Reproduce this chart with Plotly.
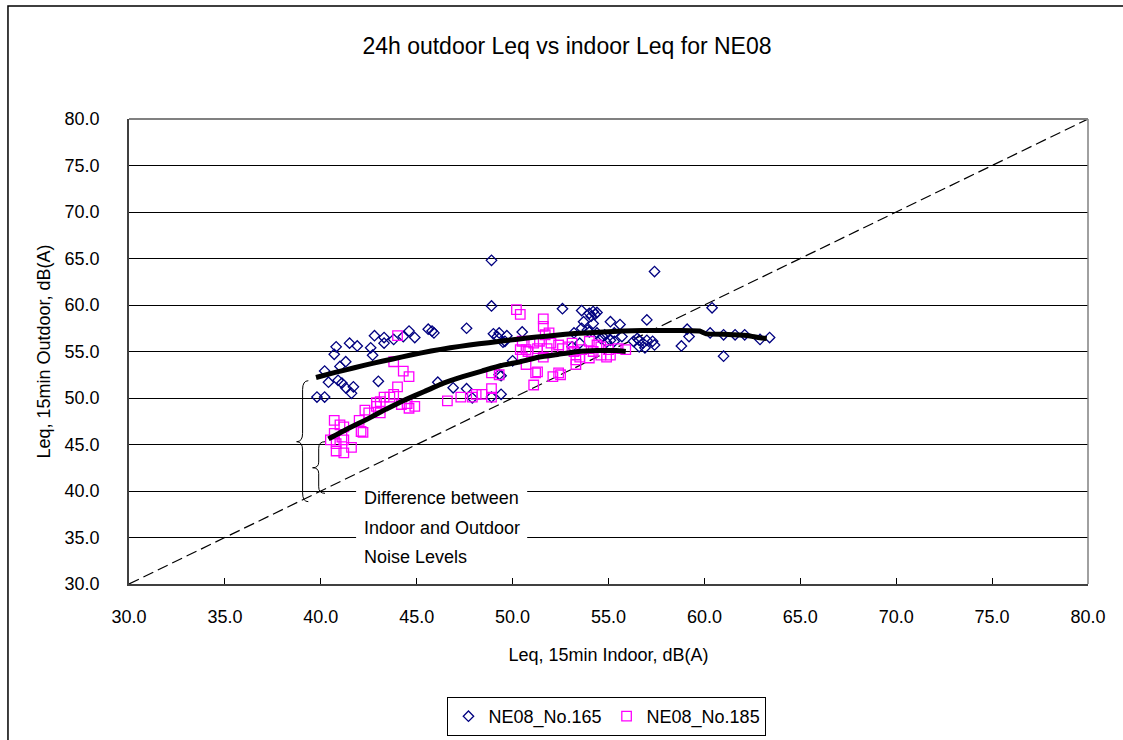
import plotly.graph_objects as go

# ---------------- data ----------------
ne165_x = [48.9, 48.9, 47.6, 45.6, 45.8, 45.9, 44.6, 44.9, 44.3, 43.8, 43.3, 43.3, 42.8, 42.6, 42.7,
           41.9, 41.5, 40.8, 40.7, 41.3, 41.0, 40.2, 40.4, 40.9, 41.1, 41.3, 41.7, 41.6, 43.0, 39.8,
           40.2, 46.1, 46.9, 47.6, 47.9, 48.9, 49.4, 49.3, 49.4, 49.0, 49.3, 49.2, 49.7, 49.6, 50.5,
           50.0, 52.6, 53.6, 54.0, 54.2, 54.3, 54.1, 54.4, 53.7, 54.2, 55.1, 55.6, 49.5, 53.2, 53.9,
           54.4, 54.7, 55.1, 55.3, 54.9, 55.7, 53.1, 53.5, 56.3, 57.4, 60.4, 57.0, 56.5, 56.6, 56.8,
           57.0, 56.6, 56.9, 57.3, 57.4, 58.8, 59.1, 59.2, 60.3, 61.0, 61.0, 61.6, 62.1, 62.9, 63.4,
           54.6, 54.8, 55.3, 54.0, 53.6]
ne165_y = [64.8, 59.9, 57.5, 57.4, 57.2, 57.0, 57.2, 56.5, 56.6, 56.3, 56.5, 55.9, 56.7, 55.4, 54.6,
           55.6, 55.9, 55.5, 54.7, 53.9, 53.4, 52.9, 51.7, 51.9, 51.6, 51.1, 51.2, 50.5, 51.8, 50.1,
           50.1, 51.7, 51.1, 51.0, 50.0, 50.1, 50.4, 52.5, 52.4, 56.9, 57.0, 56.6, 56.7, 56.1, 57.1,
           54.0, 59.6, 59.4, 59.1, 59.3, 59.0, 58.8, 59.2, 58.2, 58.0, 58.2, 57.9, 56.0, 57.0, 57.3,
           57.0, 56.6, 56.2, 57.0, 56.0, 56.6, 55.5, 55.9, 56.1, 63.6, 59.7, 58.4, 56.4, 56.2, 55.9,
           56.2, 55.5, 55.4, 56.1, 55.7, 55.6, 57.4, 56.6, 57.0, 56.8, 54.5, 56.8, 56.8, 56.3, 56.5,
           56.4, 56.8, 56.1, 57.1, 57.5]

ne185_x = [50.2, 50.4, 44.0, 43.8, 44.3, 44.6, 44.0, 43.8, 43.6, 43.3, 43.1, 42.9, 42.9, 42.3, 42.5,
           43.1, 44.2, 44.5, 44.6, 44.9, 42.0, 42.1, 42.2, 40.7, 41.0, 41.2, 40.7, 41.1, 40.5, 40.8,
           41.2, 41.6, 40.8, 41.2, 46.6, 47.3, 47.9, 48.1, 48.4, 48.9, 48.9, 48.9, 49.3, 51.2, 51.1,
           51.6, 51.9, 51.6, 50.5, 50.7, 50.5, 50.8, 51.1, 51.3, 51.4, 51.6, 51.8, 52.0, 52.4, 52.6,
           53.1, 53.2, 53.3, 53.5, 54.0, 54.0, 54.4, 54.6, 54.9, 55.1, 55.9, 50.7, 51.3, 52.1, 52.4,
           52.5, 51.7, 53.3, 50.4, 54.6, 55.0, 53.6, 52.9, 54.2, 55.5]
ne185_y = [59.5, 59.0, 56.7, 53.9, 52.9, 52.3, 51.2, 50.4, 50.1, 50.1, 49.6, 49.5, 49.1, 48.7, 48.4,
           48.4, 49.3, 49.4, 48.9, 49.1, 47.6, 46.4, 46.3, 47.6, 47.1, 46.9, 46.2, 45.8, 45.5, 45.1,
           45.5, 44.7, 44.3, 44.1, 49.7, 50.1, 50.1, 50.4, 50.4, 51.0, 50.1, 52.7, 52.5, 52.7, 51.4,
           58.5, 57.0, 57.7, 56.1, 55.2, 54.4, 55.0, 55.9, 55.3, 56.1, 54.4, 55.3, 55.9, 55.7, 55.3,
           55.9, 55.0, 54.1, 54.4, 56.1, 54.3, 55.7, 54.6, 54.4, 54.6, 55.2, 53.6, 52.8, 52.3, 52.7,
           52.5, 56.8, 53.6, 55.2, 55.5, 55.2, 55.2, 55.5, 55.0, 55.3]

trend165_x = [39.75, 40.75, 41.75, 42.75, 43.75, 44.75, 45.75, 46.75, 47.75, 48.75, 49.75, 50.75,
              51.75, 52.75, 53.75, 54.75, 55.75, 56.75, 57.75, 58.75, 59.75, 60.1, 61.0, 61.5,
              62.3, 62.8, 63.25]
trend165_y = [52.2, 52.75, 53.25, 53.75, 54.2, 54.65, 55.05, 55.4, 55.7, 55.95, 56.2, 56.45,
              56.65, 56.85, 57.0, 57.1, 57.2, 57.25, 57.25, 57.25, 57.2, 56.9, 56.85, 56.8,
              56.7, 56.5, 56.4]

trend185_x = [40.4, 41.4, 42.4, 43.4, 44.4, 45.4, 46.4, 47.4, 48.4, 49.4, 50.4, 51.4, 52.4,
              53.4, 54.4, 55.4, 55.9]
trend185_y = [45.6, 46.7, 47.7, 48.8, 49.8, 50.7, 51.6, 52.3, 52.9, 53.5, 53.9, 54.4, 54.7,
              55.0, 55.1, 55.1, 55.0]

equal_x = [30.0, 80.0]
equal_y = [30.0, 80.0]

title_text = "24h outdoor Leq vs indoor Leq for NE08"
x_title = "Leq, 15min Indoor, dB(A)"
y_title = "Leq, 15min Outdoor, dB(A)"
note_lines = ["Difference between", "Indoor and Outdoor", "Noise Levels"]

# ---------------- style ----------------
FONT = "Liberation Sans, Arial, sans-serif"
NAVY = "#000080"
MAGENTA = "#FF00FF"

fig = go.Figure()

fig.add_trace(go.Scatter(x=equal_x, y=equal_y, mode="lines",
                         line=dict(color="black", width=1.2, dash="11px,5px"),
                         showlegend=False, hoverinfo="skip"))
fig.add_trace(go.Scatter(x=ne165_x, y=ne165_y, mode="markers", name="NE08_No.165",
                         marker=dict(symbol="diamond-open", size=8, color=NAVY,
                                     line=dict(color=NAVY, width=1.3))))
fig.add_trace(go.Scatter(x=ne185_x, y=ne185_y, mode="markers", name="NE08_No.185",
                         marker=dict(symbol="square-open", size=9.5, color=MAGENTA,
                                     line=dict(color=MAGENTA, width=1.3))))
fig.add_trace(go.Scatter(x=trend165_x, y=trend165_y, mode="lines",
                         line=dict(color="black", width=5, shape="spline", smoothing=0.3),
                         showlegend=False, hoverinfo="skip"))
fig.add_trace(go.Scatter(x=trend185_x, y=trend185_y, mode="lines",
                         line=dict(color="black", width=5, shape="spline", smoothing=0.3),
                         showlegend=False, hoverinfo="skip"))

shapes = [
    # white box behind the note text
    dict(type="rect", xref="x", yref="y", x0=41.84, x1=50.76, y0=31.3, y1=40.75,
         fillcolor="white", line=dict(width=0), layer="between"),
    # grey frame top/right
    dict(type="line", xref="paper", yref="paper", x0=0, x1=1, y0=1, y1=1,
         line=dict(color="#808080", width=2), layer="above"),
    dict(type="line", xref="paper", yref="paper", x0=1, x1=1, y0=0, y1=1,
         line=dict(color="#808080", width=1.5), layer="above"),
    # outer chart border
    dict(type="rect", xref="paper", yref="paper", x0=-0.1262, x1=1.06, y0=-0.36, y1=1.2430,
         line=dict(color="black", width=1.5), fillcolor="rgba(0,0,0,0)", layer="above"),
    # braces
    dict(type="path", xref="x", yref="y",
         path="M 39.35,51.86 Q 39.05,51.86 39.05,50.9 L 39.05,46.2 Q 39.05,45.3 38.74,45.3 "
              "Q 39.05,45.3 39.05,44.4 L 39.05,39.8 Q 39.05,38.85 39.35,38.85",
         line=dict(color="black", width=1), layer="above"),
    dict(type="path", xref="x", yref="y",
         path="M 40.22,45.3 Q 39.89,45.3 39.89,44.6 L 39.89,43.1 Q 39.89,42.5 39.57,42.5 "
              "Q 39.89,42.5 39.89,41.9 L 39.89,40.45 Q 39.89,39.75 40.22,39.75",
         line=dict(color="black", width=1), layer="above"),
]

annotations = []
for txt, yv in zip(note_lines, [39.25, 36.02, 32.9]):
    annotations.append(dict(x=42.15, y=yv, xref="x", yref="y", text=txt, showarrow=False,
                            xanchor="left", yanchor="middle",
                            font=dict(family=FONT, size=18, color="black")))

fig.update_layout(
    width=1123, height=740, autosize=False,
    margin=dict(l=129, r=35, t=119, b=156, autoexpand=False),
    paper_bgcolor="white", plot_bgcolor="white",
    font=dict(family=FONT, size=18, color="black"),
    title=dict(text=title_text, x=0.4567, xref="paper", xanchor="center",
               y=1 - 46 / 740, yref="container", yanchor="middle",
               font=dict(family=FONT, size=23, color="black")),
    xaxis=dict(range=[30, 80], tick0=30, dtick=5, tickformat=".1f", automargin=False,
               ticks="inside", ticklen=6, tickcolor="black", tickwidth=1,
               showline=True, linecolor="#404040", linewidth=1.5,
               showgrid=False, zeroline=False, ticklabelstandoff=16,
               tickfont=dict(family=FONT, size=18),
               title=dict(text=x_title, standoff=22, font=dict(family=FONT, size=18))),
    yaxis=dict(range=[30, 80], tick0=30, dtick=5, tickformat=".1f", automargin=False,
               ticks="inside", ticklen=6, tickcolor="black", tickwidth=1,
               showline=True, linecolor="#404040", linewidth=1.5,
               showgrid=True, gridcolor="black", gridwidth=1, zeroline=False,
               ticklabelstandoff=24,
               tickfont=dict(family=FONT, size=18),
               title=dict(text=y_title, standoff=9, font=dict(family=FONT, size=18))),
    legend=dict(orientation="h", x=0.4984, xanchor="center", y=-0.243, yanchor="top",
                bordercolor="black", borderwidth=1, bgcolor="white",
                font=dict(family=FONT, size=18), itemwidth=30),
    shapes=shapes,
    annotations=annotations,
)

fig.write_html("out.html")
